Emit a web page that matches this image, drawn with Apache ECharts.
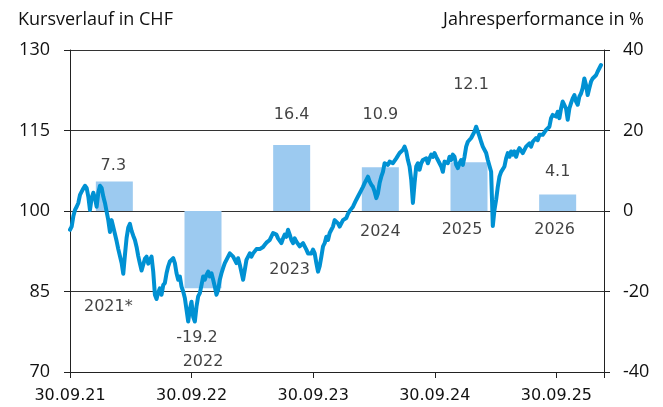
<!DOCTYPE html>
<html>
<head>
<meta charset="utf-8">
<script src="https://cdn.jsdelivr.net/npm/echarts@6/dist/echarts.min.js"></script>
<style>
  html, body { margin: 0; padding: 0; background: #ffffff; }
  #chart { width: 663px; height: 407px; }
</style>
</head>
<body>
<div id="chart"></div>
<script>
// Price history (CHF), one reading every 5 days starting 30.09.2021
const START_DATE = '2021-09-30';
const END_DATE = '2026-02-20';
const STEP_DAYS = 5;
const priceValues = [
  96.5, 97.1, 99.0, 100.2, 100.8, 101.5, 103.0, 103.6, 104.2, 104.7,
  104.3, 102.7, 100.2, 102.4, 103.4, 102.4, 100.8, 103.4, 104.7, 104.3,
  102.7, 101.5, 99.9, 98.3, 96.1, 98.3, 98.0, 95.7, 94.4, 92.9,
  92.8, 90.3, 88.3, 91.8, 95.0, 96.9, 97.6, 96.3, 95.4, 94.6,
  93.3, 91.6, 90.2, 88.9, 89.0, 91.1, 91.5, 90.2, 90.5, 91.5,
  88.7, 84.4, 83.6, 84.8, 85.6, 84.4, 86.2, 86.6, 88.4, 89.7,
  90.6, 90.3, 91.2, 90.3, 88.4, 87.2, 87.8, 85.9, 85.0, 83.8,
  81.6, 79.4, 81.6, 83.1, 80.3, 79.4, 82.2, 84.1, 84.7, 86.2,
  87.8, 87.2, 88.1, 88.7, 87.8, 88.4, 87.2, 85.9, 84.4, 85.3,
  87.2, 88.4, 89.4, 90.3, 90.9, 91.5, 92.1, 92.4, 91.5, 91.8,
  90.3, 91.2, 90.0, 89.7, 87.2, 89.0, 90.9, 91.5, 92.1, 91.5,
  92.1, 92.4, 92.9, 92.8, 92.9, 93.1, 93.3, 93.7, 94.1, 94.3,
  94.6, 94.9, 95.9, 96.2, 95.6, 94.9, 95.2, 94.0, 94.9, 95.6,
  95.2, 96.5, 95.6, 94.6, 94.0, 94.9, 94.3, 94.0, 93.4, 93.1,
  94.0, 93.4, 92.8, 92.1, 92.4, 92.1, 92.8, 92.1, 90.3, 88.7,
  89.7, 91.5, 93.4, 94.0, 95.2, 94.6, 95.9, 96.5, 97.1, 98.3,
  98.0, 97.7, 97.1, 97.4, 98.3, 98.0, 98.7, 99.5, 100.0, 100.4,
  100.8, 101.1, 102.1, 102.7, 103.0, 103.9, 104.5, 105.2, 105.8, 106.4,
  105.5, 104.9, 104.5, 103.6, 102.4, 103.3, 105.2, 106.4, 107.3, 108.9,
  109.2, 108.6, 109.2, 109.5, 108.9, 109.2, 109.8, 110.1, 110.8, 110.5,
  111.4, 112.0, 111.1, 109.5, 108.3, 105.8, 101.5, 105.2, 108.3, 108.9,
  107.7, 108.9, 109.5, 109.2, 109.8, 108.9, 109.8, 110.5, 110.1, 110.8,
  110.1, 109.5, 109.7, 108.3, 107.3, 109.2, 109.5, 108.9, 110.1, 109.5,
  110.5, 110.1, 108.6, 108.0, 108.9, 109.5, 108.6, 110.1, 112.0, 112.9,
  112.6, 113.6, 113.9, 114.8, 115.7, 114.8, 113.9, 112.9, 112.0, 112.0,
  110.8, 109.5, 109.8, 107.3, 97.2, 100.2, 102.1, 104.5, 106.4, 107.3,
  107.0, 108.3, 109.8, 110.8, 110.1, 111.1, 110.5, 111.1, 110.1, 111.1,
  111.7, 111.4, 110.8, 111.4, 112.0, 112.1, 112.6, 112.0, 112.9, 112.6,
  113.6, 113.2, 114.2, 113.9, 114.2, 114.5, 115.1, 114.8, 115.7, 117.3,
  117.9, 118.2, 117.6, 118.5, 117.3, 119.1, 120.4, 120.7, 119.1, 117.0,
  119.1, 120.1, 121.0, 121.6, 120.4, 119.8, 121.3, 121.9, 122.9, 124.7,
  123.5, 121.6, 122.9, 124.1, 124.7, 124.4, 125.3, 126.0, 126.6, 127.2
];

// Calendar-year performance (%)
const perfYears = ['2021*', '2022', '2023', '2024', '2025', '2026'];
const perfValues = [7.3, -19.2, 16.4, 10.9, 12.1, 4.1];

// Axis ticks
const dateTicks = ['30.09.21', '30.09.22', '30.09.23', '30.09.24', '30.09.25'];
const priceTicks = [70, 85, 100, 115, 130];
const perfTicks = [-40, -20, 0, 20, 40];

// Label placement (pixel offsets) so the annotations stay clear of the price line
const valueLabelOffset = [[-1, -16], [-6, 50], [0, -30], [0, -52], [2, -77], [0, -23]];
const yearLabelOffset = [[-6, 96], [0, 151], [-2, 59], [0, 21], [-7, 19], [-3, 19]];

// x axis runs in days since the start date; one tick per year
const DAY = 86400000;
const YEAR_DAYS = 365.25;
const ts = (s) => new Date(s + 'T00:00:00Z').getTime();
const spanDays = Math.round((ts(END_DATE) - ts(START_DATE)) / DAY);
const priceSeries = priceValues.map((v, i) => [i * STEP_DAYS, v]);

const yearTickLabel = (d) => {
  const k = Math.round(d / YEAR_DAYS);
  if (Math.abs(d - k * YEAR_DAYS) > 1 || k >= dateTicks.length) return '';
  return dateTicks[k];
};

const TEXT = '#111111';
const AXIS = '#222222';
const NUM_FONT = 'DejaVu Sans';
const TITLE_FONT = 'Open Sans';

const chart = echarts.init(document.getElementById('chart'), null, { renderer: 'canvas' });

chart.setOption({
  animation: false,
  backgroundColor: '#ffffff',
  title: [
    { text: 'Kursverlauf in CHF', left: 13, top: 6,
      textStyle: { fontFamily: TITLE_FONT, fontSize: 18, fontWeight: 'normal', color: TEXT } },
    { text: 'Jahresperformance in %', right: 14, top: 6,
      textStyle: { fontFamily: TITLE_FONT, fontSize: 18, fontWeight: 'normal', color: TEXT } }
  ],
  grid: [
    { left: 70, right: 59, top: 50, bottom: 35 },
    { left: 70, right: 61, top: 50, bottom: 35 }
  ],
  xAxis: [
    {
      type: 'value', gridIndex: 0, position: 'bottom',
      min: 0, max: spanDays, interval: YEAR_DAYS,
      axisLine: { show: true, onZero: false, lineStyle: { color: AXIS, width: 1 } },
      axisTick: { show: true, length: 6, inside: false,
                  lineStyle: { color: AXIS, width: 1 } },
      axisLabel: { formatter: yearTickLabel, margin: 16,
                   showMinLabel: true, showMaxLabel: true, hideOverlap: false,
                   fontFamily: NUM_FONT, fontSize: 16, color: TEXT },
      splitLine: { show: false }
    },
    { type: 'category', gridIndex: 1, data: perfYears, show: false }
  ],
  yAxis: [
    {
      type: 'value', gridIndex: 0, position: 'left',
      min: priceTicks[0], max: priceTicks[priceTicks.length - 1], interval: 15,
      axisLine: { show: true, onZero: false, lineStyle: { color: AXIS, width: 1 } },
      axisTick: { show: true, length: 6, lineStyle: { color: AXIS, width: 1 } },
      axisLabel: { margin: 20, fontFamily: TITLE_FONT, fontSize: 18, color: TEXT },
      splitLine: { show: true, lineStyle: { color: '#333333', width: 1 } }
    },
    {
      type: 'value', gridIndex: 0, position: 'right',
      min: perfTicks[0], max: perfTicks[perfTicks.length - 1], interval: 20,
      axisLine: { show: true, onZero: false, lineStyle: { color: AXIS, width: 1 } },
      axisTick: { show: true, length: 6, lineStyle: { color: AXIS, width: 1 } },
      axisLabel: { margin: 19, fontFamily: TITLE_FONT, fontSize: 18, color: TEXT },
      splitLine: { show: false }
    },
    {
      type: 'value', gridIndex: 1,
      min: perfTicks[0], max: perfTicks[perfTicks.length - 1], interval: 20,
      show: false
    }
  ],
  series: [
    {
      name: 'Performance', type: 'bar',
      xAxisIndex: 1, yAxisIndex: 2,
      data: perfValues, barWidth: 37,
      itemStyle: { color: '#9ccaf0' },
      z: 1
    },
    {
      name: 'Kurs', type: 'line',
      xAxisIndex: 0, yAxisIndex: 0,
      data: priceSeries, showSymbol: false, symbol: 'none',
      lineStyle: { color: '#0091d3', width: 4, join: 'round', cap: 'round' },
      z: 3
    },
    {
      name: 'Werte', type: 'scatter',
      xAxisIndex: 1, yAxisIndex: 2,
      symbolSize: 1, itemStyle: { color: 'rgba(0,0,0,0)' },
      silent: true, z: 5,
      data: perfValues.map((v, i) => ({
        value: [i, v],
        label: { offset: valueLabelOffset[i] }
      })),
      label: {
        show: true, position: 'inside',
        formatter: (p) => p.value[1].toFixed(1),
        fontFamily: NUM_FONT, fontSize: 16, color: TEXT
      }
    },
    {
      name: 'Jahre', type: 'scatter',
      xAxisIndex: 1, yAxisIndex: 2,
      symbolSize: 1, itemStyle: { color: 'rgba(0,0,0,0)' },
      silent: true, z: 5,
      data: perfYears.map((y, i) => ({
        name: y,
        value: [i, 0],
        label: { offset: yearLabelOffset[i] }
      })),
      label: {
        show: true, position: 'inside',
        formatter: (p) => p.name,
        fontFamily: NUM_FONT, fontSize: 16, color: TEXT
      }
    }
  ]
});
</script>
</body>
</html>
